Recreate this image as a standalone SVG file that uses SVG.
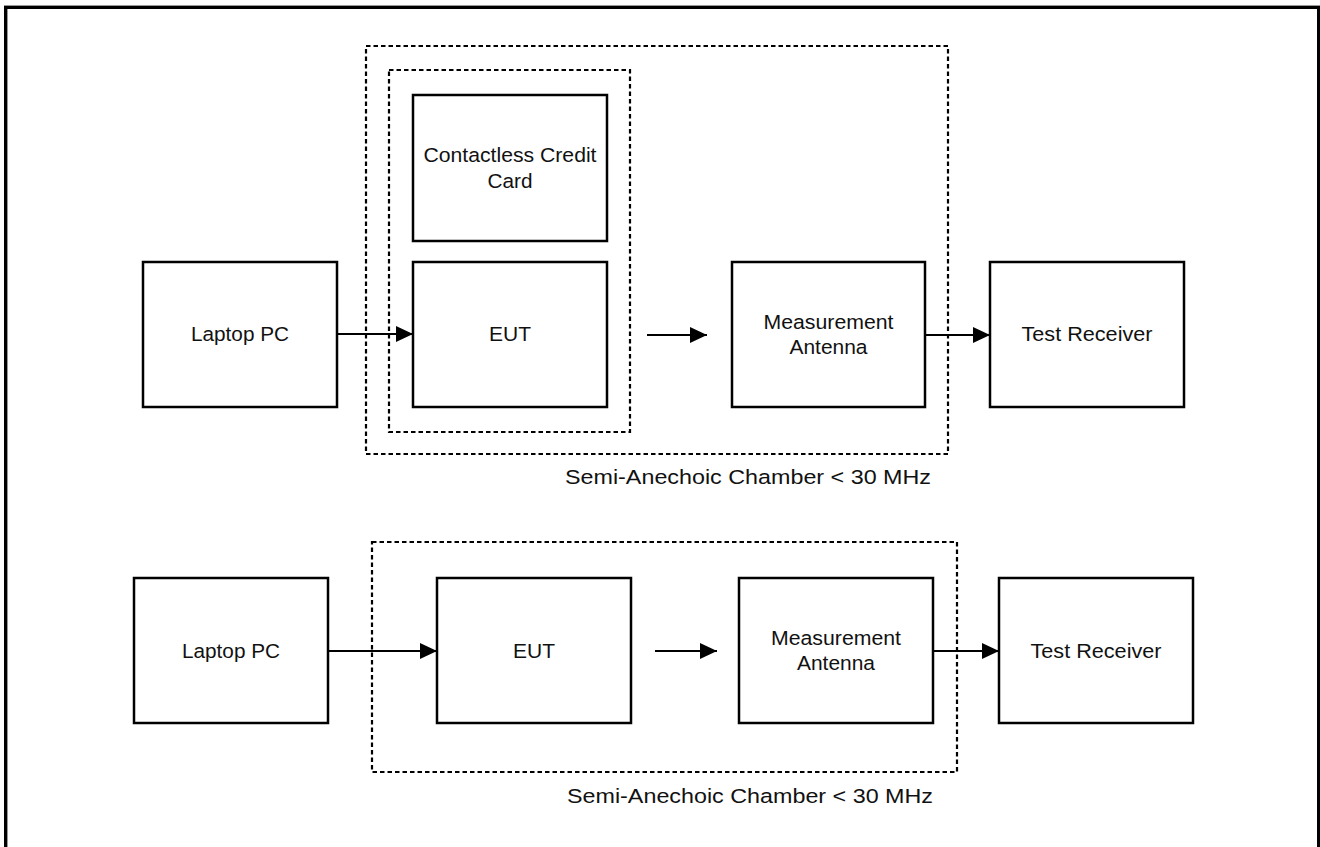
<svg xmlns="http://www.w3.org/2000/svg" width="1320" height="847" viewBox="0 0 1320 847">
<style>
.box{fill:#fff;stroke:#000;stroke-width:2.5}
.dash{fill:none;stroke:#000;stroke-width:2.2;stroke-dasharray:4.5 3}
.t{font-family:"Liberation Sans",Arial,sans-serif;font-size:20.5px;fill:#111;text-anchor:middle}
.tl{font-family:"Liberation Sans",Arial,sans-serif;font-size:20.5px;fill:#111}
.c{stroke:#000;stroke-width:2.2;fill:none;marker-end:url(#ah)}
</style>
<defs>
<marker id="ah" markerUnits="userSpaceOnUse" markerWidth="18" markerHeight="17" refX="17" refY="8" orient="auto">
<path d="M0,0 L17,8 L0,16 z" fill="#000"/>
</marker>
</defs>
<rect x="0" y="0" width="1320" height="847" fill="#fff"/>
<rect id="frame" x="5.7" y="7.3" width="1313" height="900" fill="none" stroke="#000" stroke-width="3.4"/>

<g id="chamber-top">
<rect class="dash" x="366" y="46" width="582" height="408"/>
<text class="tl" x="565" y="484" textLength="366" lengthAdjust="spacingAndGlyphs">Semi-Anechoic Chamber &lt; 30 MHz</text>
</g>
<g id="eut-group-top">
<rect class="dash" x="389" y="70" width="241" height="362"/>
</g>
<g id="laptop-top">
<rect class="box" x="143" y="262" width="194" height="145"/>
<text class="t" x="240" y="341" textLength="98" lengthAdjust="spacingAndGlyphs">Laptop PC</text>
</g>
<g id="card-top">
<rect class="box" x="413" y="95" width="194" height="146"/>
<text class="t" x="510" y="162" textLength="173" lengthAdjust="spacingAndGlyphs">Contactless Credit</text>
<text class="t" x="510" y="188" textLength="45" lengthAdjust="spacingAndGlyphs">Card</text>
</g>
<g id="eut-top">
<rect class="box" x="413" y="262" width="194" height="145"/>
<text class="t" x="510" y="341" textLength="42" lengthAdjust="spacingAndGlyphs">EUT</text>
</g>
<g id="antenna-top">
<rect class="box" x="732" y="262" width="193" height="145"/>
<text class="t" x="828.5" y="329" textLength="130" lengthAdjust="spacingAndGlyphs">Measurement</text>
<text class="t" x="828.5" y="354" textLength="78" lengthAdjust="spacingAndGlyphs">Antenna</text>
</g>
<g id="receiver-top">
<rect class="box" x="990" y="262" width="194" height="145"/>
<text class="t" x="1087" y="341" textLength="131" lengthAdjust="spacingAndGlyphs">Test Receiver</text>
</g>

<g id="chamber-bottom">
<rect class="dash" x="372" y="542" width="585" height="230"/>
<text class="tl" x="567" y="803" textLength="366" lengthAdjust="spacingAndGlyphs">Semi-Anechoic Chamber &lt; 30 MHz</text>
</g>
<g id="laptop-bottom">
<rect class="box" x="134" y="578" width="194" height="145"/>
<text class="t" x="231" y="658" textLength="98" lengthAdjust="spacingAndGlyphs">Laptop PC</text>
</g>
<g id="eut-bottom">
<rect class="box" x="437" y="578" width="194" height="145"/>
<text class="t" x="534" y="658" textLength="42" lengthAdjust="spacingAndGlyphs">EUT</text>
</g>
<g id="antenna-bottom">
<rect class="box" x="739" y="578" width="194" height="145"/>
<text class="t" x="836" y="645" textLength="130" lengthAdjust="spacingAndGlyphs">Measurement</text>
<text class="t" x="836" y="670" textLength="78" lengthAdjust="spacingAndGlyphs">Antenna</text>
</g>
<g id="receiver-bottom">
<rect class="box" x="999" y="578" width="194" height="145"/>
<text class="t" x="1096" y="658" textLength="131" lengthAdjust="spacingAndGlyphs">Test Receiver</text>
</g>

<g id="connectors">
<line class="c" x1="337" y1="334" x2="413" y2="334"/>
<line class="c" x1="647" y1="335" x2="707" y2="335"/>
<line class="c" x1="925" y1="335" x2="990" y2="335"/>
<line class="c" x1="328" y1="651" x2="437" y2="651"/>
<line class="c" x1="655" y1="651" x2="717" y2="651"/>
<line class="c" x1="933" y1="651" x2="999" y2="651"/>
</g>
</svg>
